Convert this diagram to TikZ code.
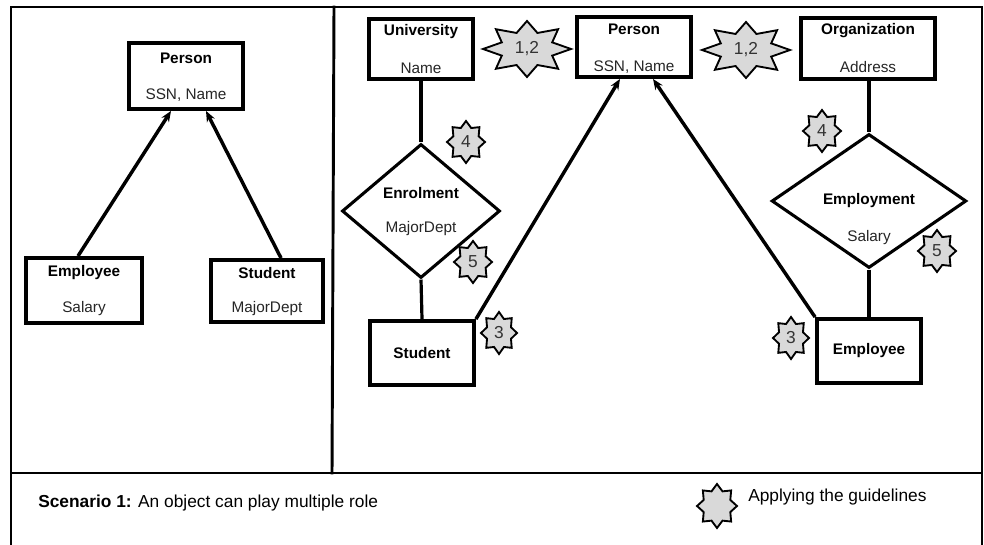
\documentclass[tikz,border=0pt]{standalone}
\usepackage{fontspec}
\setmainfont{Liberation Sans}
\usetikzlibrary{arrows.meta,shapes.geometric}

% 8-pointed grey star: #1 name, #2 cx, #3 cy, #4 rx, #5 ry, #6 inner ratio, #7 label
\newcommand{\guidestar}[7]{%
  \draw[starline] plot[samples at={0,...,15}]
    ({#2+#4*(#6+(1-#6)*mod(\x+1,2))*cos(90+22.5*\x)},
     {#3-#5*(#6+(1-#6)*mod(\x+1,2))*sin(90+22.5*\x)}) -- cycle;
  \node[startext] (#1) at (#2,#3) {#7};%
}

\begin{document}
\begin{tikzpicture}[x=0.75pt,y=-0.75pt,
  frame/.style={line width=2.2pt, line cap=rect},
  entity/.style={draw, rectangle, line width=2.9pt, inner sep=0pt},
  rel/.style={draw, diamond, line width=2.3pt, inner sep=0pt},
  ttl/.style={font=\fontsize{11.5pt}{13pt}\selectfont\bfseries, inner sep=0pt},
  att/.style={font=\fontsize{11.5pt}{13pt}\selectfont, text=black!85, inner sep=0pt},
  link/.style={line width=2.4pt},
  isa/.style={line width=2.6pt, -{Stealth[length=8pt,width=6.5pt]}},
  starline/.style={draw=black, fill=black!15, line width=1.4pt, line join=miter},
  startext/.style={font=\fontsize{13pt}{15pt}\selectfont, text=black!80, inner sep=0pt},
  note/.style={font=\fontsize{13pt}{15pt}\selectfont, anchor=west, inner sep=0pt}]

\useasboundingbox (0,0) rectangle (984,545);
\fill[white] (0,0) rectangle (984,545);

% panel frame
\draw[frame] (11,545) -- (11,7) -- (982,7) -- (982,545);
\draw[frame] (11,473) -- (982,473);
\draw[frame] (334,7) -- (332,473);

% ---------- left panel: specialisation ----------
\node[entity, minimum width=85.5pt, minimum height=49.5pt] (lperson) at (186,76) {};
\node[ttl] (lperson-t) at (186,58) {Person};
\node[att] (lperson-a) at (186,95) {SSN, Name};

\node[entity, minimum width=87pt, minimum height=48.75pt] (lemp) at (84,290.5) {};
\node[ttl] (lemp-t) at (84,273) {Employee};
\node[att] (lemp-a) at (84,309) {Salary};

\node[entity, minimum width=84pt, minimum height=46.5pt] (lstu) at (267,291) {};
\node[ttl] (lstu-t) at (267,273) {Student};
\node[att] (lstu-a) at (267,309) {MajorDept};

\draw[isa] (lemp.north -| 78,0) -- (lperson.south -| 171,0);
\draw[isa] (lstu.north -| 281,0) -- (lperson.south -| 206,0);

% ---------- right panel: roles ----------
\node[entity, minimum width=78pt, minimum height=45pt] (uni) at (421,49) {};
\node[ttl] (uni-t) at (421,32) {University};
\node[att] (uni-a) at (421,68) {Name};

\node[entity, minimum width=85.5pt, minimum height=45pt] (rperson) at (634,47) {};
\node[ttl] (rperson-t) at (634,29) {Person};
\node[att] (rperson-a) at (634,67) {SSN, Name};

\node[entity, minimum width=100.5pt, minimum height=45.75pt] (org) at (868,48.5) {};
\node[ttl] (org-t) at (868,31) {Organization};
\node[att] (org-a) at (868,67) {Address};

\node[rel, minimum width=118.5pt, minimum height=100.5pt] (enrol) at (421,211) {};
\node[ttl] (enrol-t) at (421,193) {Enrolment};
\node[att] (enrol-a) at (421,229) {MajorDept};

\node[rel, minimum width=146pt, minimum height=100.5pt] (employ) at (869,201) {};
\node[ttl] (employ-t) at (869,201) {Employment};
\node[att] (employ-a) at (869,238) {Salary};

\node[entity, minimum width=78pt, minimum height=48pt] (rstu) at (422,353) {};
\node[ttl] (rstu-t) at (422,353) {Student};

\node[entity, minimum width=78pt, minimum height=48pt] (remp) at (869,351) {};
\node[ttl] (remp-t) at (869,351) {Employee};

\draw[link] (uni.south) -- (enrol.north);
\draw[link] (enrol.south) -- (rstu.north);
\draw[link] (org.south -| employ.north) -- (employ.north);
\draw[link] (employ.south) -- (remp.north);

\draw[isa] (rstu.north east) -- (rperson.south -| 620,0);
\draw[isa] (remp.north west) -- (rperson.south -| 653,0);

% guideline markers
\guidestar{g12a}{527}{49}{44}{28}{0.62}{1,2}
\guidestar{g12b}{746}{50}{44}{28}{0.62}{1,2}
\guidestar{g4a}{466}{142}{19}{21}{0.72}{4}
\guidestar{g5a}{473}{262}{19}{21}{0.72}{5}
\guidestar{g3a}{499}{333}{18}{21}{0.72}{3}
\guidestar{g4b}{822}{131}{19}{21}{0.72}{4}
\guidestar{g5b}{937}{251}{19}{21}{0.72}{5}
\guidestar{g3b}{791}{338}{18}{21}{0.72}{3}

% caption strip
\node[note] (scenario) at (38,503) {\textbf{Scenario 1:} An object can play multiple role};
\guidestar{legend}{717}{506}{20}{22}{0.72}{}
\node[note] (legend-t) at (748,497) {Applying the guidelines};

\end{tikzpicture}
\end{document}
